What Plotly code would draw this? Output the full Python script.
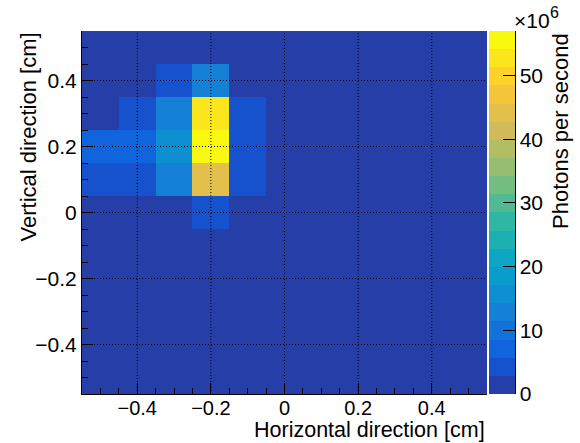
import plotly.graph_objects as go

# ---- data (values in photons per second) ----
x_centers = [-0.5, -0.4, -0.3, -0.2, -0.1, 0.0, 0.1, 0.2, 0.3, 0.4, 0.5]
y_centers = [-0.5, -0.4, -0.3, -0.2, -0.1, 0.0, 0.1, 0.2, 0.3, 0.4, 0.5]

# non-empty bins: x centre, y centre, content
cell_x = [-0.3, -0.2, -0.4, -0.3, -0.2, -0.1, -0.5, -0.4, -0.3, -0.2, -0.1, -0.5, -0.4, -0.3, -0.2, -0.1, -0.2]
cell_y = [0.4, 0.4, 0.3, 0.3, 0.3, 0.3, 0.2, 0.2, 0.2, 0.2, 0.2, 0.1, 0.1, 0.1, 0.1, 0.1, 0.0]
cell_v = [4.3e6, 12.8e6, 4.3e6, 12.8e6, 52.7e6, 4.3e6, 7.1e6, 7.1e6, 15.7e6, 57.0e6, 4.3e6,
          4.3e6, 4.3e6, 12.8e6, 44.2e6, 4.3e6, 4.3e6]

z_max = 57.0e6
n_levels = 20

axis_ticks = [-0.4, -0.2, 0.0, 0.2, 0.4]
cbar_tickvals = [0, 10e6, 20e6, 30e6, 40e6, 50e6]
cbar_ticktext = ["0", "10", "20", "30", "40", "50"]

# ---- build grid ----
z = [[0.0 for _ in x_centers] for _ in y_centers]
for cx, cy, v in zip(cell_x, cell_y, cell_v):
    i = min(range(len(y_centers)), key=lambda k: abs(y_centers[k] - cy))
    j = min(range(len(x_centers)), key=lambda k: abs(x_centers[k] - cx))
    z[i][j] = v

# ---- ROOT kBird palette, 20 contour bands ----
stops = [0.0, 0.125, 0.25, 0.375, 0.5, 0.625, 0.75, 0.875, 1.0]
red = [0.2082, 0.0592, 0.0780, 0.0232, 0.1802, 0.5301, 0.8186, 0.9956, 0.9764]
green = [0.1664, 0.3599, 0.5041, 0.6419, 0.7178, 0.7492, 0.7328, 0.7862, 0.9832]
blue = [0.5293, 0.8684, 0.8385, 0.7914, 0.6425, 0.4662, 0.3499, 0.1968, 0.0539]
NC = 255
palette = []
for g in range(1, len(stops)):
    s0 = int(NC * stops[g - 1])
    s1 = int(NC * stops[g])
    n = s1 - s0
    for c in range(n):
        f = c / n
        palette.append((red[g - 1] + f * (red[g] - red[g - 1]),
                        green[g - 1] + f * (green[g] - green[g - 1]),
                        blue[g - 1] + f * (blue[g] - blue[g - 1])))
while len(palette) < NC:
    palette.append((red[-1], green[-1], blue[-1]))

colorscale = []
for lvl in range(n_levels):
    idx = int((lvl + 0.99) * NC / n_levels)
    idx = min(idx, NC - 1)
    r, g, b = palette[idx]
    col = "rgb(%d,%d,%d)" % (round(r * 255), round(g * 255), round(b * 255))
    colorscale.append([lvl / n_levels, col])
    colorscale.append([(lvl + 1) / n_levels, col])

FONT = "Liberation Sans, Arial, Helvetica, sans-serif"

W, H = 580, 443
L, R, T, B = 82, 487, 31, 394
PW, PH = R - L, B - T

fig = go.Figure()
fig.add_trace(go.Heatmap(
    x=x_centers, y=y_centers, z=z,
    zmin=0, zmax=z_max,
    colorscale=colorscale,
    hoverinfo="skip",
    colorbar=dict(
        xref="paper", x=(489 - L) / PW, xanchor="left", xpad=0,
        yref="paper", y=0, yanchor="bottom", ypad=0,
        len=1, lenmode="fraction",
        thickness=26, thicknessmode="pixels",
        outlinewidth=0,
        tickvals=cbar_tickvals, ticktext=cbar_ticktext,
        ticks="inside", ticklen=12, tickwidth=1, tickcolor="black",
        tickfont=dict(family=FONT, size=21, color="black"),
    ),
))

shapes = []
for t in axis_ticks:
    shapes.append(dict(type="line", xref="x", yref="paper", x0=t, x1=t, y0=0, y1=1,
                       line=dict(color="black", width=1, dash="1px,2px"), layer="above"))
    shapes.append(dict(type="line", xref="paper", yref="y", x0=0, x1=1, y0=t, y1=t,
                       line=dict(color="black", width=1, dash="1px,2px"), layer="above"))
# palette axis line
px_right = (515.5 - L) / PW
shapes.append(dict(type="line", xref="paper", yref="paper", x0=px_right, x1=px_right, y0=0, y1=1,
                   line=dict(color="black", width=1), layer="above"))

axis_common = dict(
    ticks="inside", ticklen=11, tickwidth=1, tickcolor="black",
    showline=True, linecolor="black", linewidth=1,
    showgrid=False, zeroline=False,
    dtick=0.2, tick0=0,
    minor=dict(ticks="inside", ticklen=6, tickwidth=1, tickcolor="black", dtick=0.05, tick0=0, showgrid=False),
    layer="above traces",
)

def py(pix):
    return (B - pix) / PH

def px(pix):
    return (pix - L) / PW

fig.update_layout(
    width=W, height=H,
    margin=dict(l=L, r=W - R, t=T, b=H - B, pad=0, autoexpand=False),
    paper_bgcolor="white", plot_bgcolor="white",
    xaxis=dict(range=[-0.55, 0.55], ticklabelstandoff=-4,
               tickfont=dict(family=FONT, size=20, color="black"), **axis_common),
    yaxis=dict(range=[-0.55, 0.55],
               tickfont=dict(family=FONT, size=21, color="black"), **axis_common),
    shapes=shapes,
    font=dict(family=FONT, color="black"),
    annotations=[
        dict(text="Horizontal direction [cm]", xref="paper", yref="paper",
             x=1, y=py(444), xanchor="right", yanchor="bottom",
             showarrow=False, font=dict(family=FONT, size=21.5, color="black")),
        dict(text="Vertical direction [cm]", xref="paper", yref="paper",
             x=px(28), y=1, xanchor="center", yanchor="top", textangle=-90,
             showarrow=False, font=dict(family=FONT, size=22, color="black")),
        dict(text="Photons per second", xref="paper", yref="paper",
             x=px(560), y=1, xanchor="center", yanchor="top", textangle=-90,
             showarrow=False, font=dict(family=FONT, size=22, color="black")),
        dict(text="×10", xref="paper", yref="paper",
             x=px(512), y=py(21), xanchor="left", yanchor="middle",
             showarrow=False, font=dict(family=FONT, size=21, color="black")),
        dict(text="6", xref="paper", yref="paper",
             x=px(548), y=py(13), xanchor="left", yanchor="middle",
             showarrow=False, font=dict(family=FONT, size=16, color="black")),
    ],
)

fig.write_html("out.html")
